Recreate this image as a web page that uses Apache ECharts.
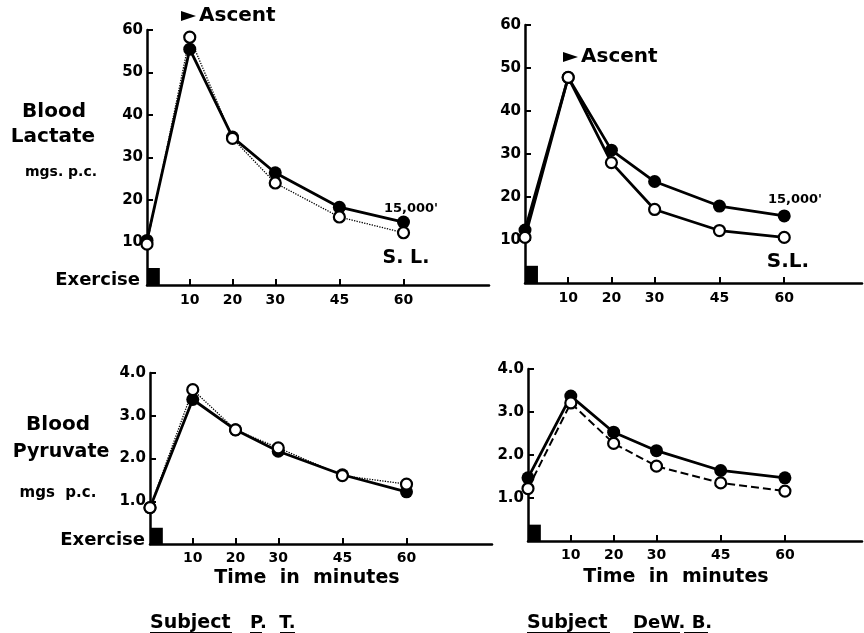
<!DOCTYPE html>
<html>
<head>
<meta charset="utf-8">
<script src="https://cdn.jsdelivr.net/npm/echarts@6/dist/echarts.min.js"></script>
<style>html,body{margin:0;padding:0;background:#fff}#c{width:864px;height:633px}</style>
</head>
<body>
<div id="c"></div>
<script>
// ---- data ----
var minutes = [0, 10, 20, 30, 45, 60];
var xTickValues = [10, 20, 30, 45, 60];
var lactateTicks = [10, 20, 30, 40, 50, 60];
var pyruvateTicks = [1, 2, 3, 4];

var lactatePT_15000 = [10.5, 55.5, 34.8, 26.4, 18.3, 14.8];
var lactatePT_SL = [9.6, 58.3, 34.5, 24.0, 16.0, 12.3];
var lactateDWB_15000 = [12.3, 47.8, 30.9, 23.6, 17.9, 15.6];
var lactateDWB_SL = [10.6, 47.8, 28.0, 17.1, 12.2, 10.6];

var pyruvatePT_15000 = [0.85, 3.38, 2.67, 2.17, 1.62, 1.22];
var pyruvatePT_SL = [0.85, 3.61, 2.67, 2.25, 1.60, 1.40];
var pyruvateDWB_15000 = [1.47, 3.37, 2.53, 2.10, 1.64, 1.47];
var pyruvateDWB_SL = [1.22, 3.21, 2.27, 1.74, 1.35, 1.16];

var exerciseMinutes = [0, 3];
var exerciseLactate = [0, 4];
var exercisePyruvate = [0, 0.38];

// ---- helpers ----
function pairs(xs, ys) { return xs.map(function (x, i) { return [x, ys[i]]; }); }
var FONT = '"DejaVu Sans", sans-serif';

function xAxis(grid, max, margin) {
  return {
    type: 'value', gridIndex: grid, min: 0, max: max,
    axisLine: { show: true, lineStyle: { color: '#000', width: 2.5 } },
    axisTick: { show: true, inside: true, length: 6, customValues: xTickValues, lineStyle: { color: '#000', width: 2 } },
    axisLabel: { customValues: xTickValues, margin: margin, color: '#000', fontFamily: FONT, fontWeight: 'bold', fontSize: 14 },
    splitLine: { show: false }
  };
}
function yAxis(grid, max, ticks, fmt) {
  return {
    type: 'value', gridIndex: grid, min: 0, max: max,
    axisLine: { show: true, lineStyle: { color: '#000', width: 2.5 } },
    axisTick: { show: true, inside: true, length: 6, customValues: ticks, lineStyle: { color: '#000', width: 2 } },
    axisLabel: { customValues: ticks, margin: 4, color: '#000', fontFamily: FONT, fontWeight: 'bold', fontSize: 15,
      formatter: fmt },
    splitLine: { show: false }
  };
}
function filledSeries(idx, ys, exY) {
  return {
    type: 'line', xAxisIndex: idx, yAxisIndex: idx, data: pairs(minutes, ys),
    symbol: 'circle', symbolSize: 13, z: 3,
    itemStyle: { color: '#000' },
    lineStyle: { color: '#000', width: 2.8 },
    markArea: { silent: true, itemStyle: { color: '#000', opacity: 1 },
      data: [[{ xAxis: exerciseMinutes[0], yAxis: exY[0] }, { xAxis: exerciseMinutes[1], yAxis: exY[1] }]] }
  };
}
function openSeries(idx, ys, w, type) {
  return {
    type: 'line', xAxisIndex: idx, yAxisIndex: idx, data: pairs(minutes, ys),
    symbol: 'circle', symbolSize: 11, z: 4,
    itemStyle: { color: '#fff', borderColor: '#000', borderWidth: 2.2 },
    lineStyle: { color: '#000', width: w, type: type }
  };
}
function txt(x, y, s, size, align) {
  return { type: 'text', x: x, y: y, z: 10,
    style: { text: s, fill: '#000', font: 'bold ' + size + 'px ' + FONT, textAlign: align || 'left', textVerticalAlign: 'middle' } };
}
function tri(x, y) {
  return { type: 'polygon', z: 10, shape: { points: [[x, y - 5], [x + 15, y], [x, y + 5]] }, style: { fill: '#000' } };
}
function uline(x1, x2, y) {
  return { type: 'line', z: 10, shape: { x1: x1, y1: y, x2: x2, y2: y }, style: { stroke: '#000', lineWidth: 2 } };
}
var f1 = function (v) { return v.toFixed(0); };
var f2 = function (v) { return v.toFixed(1); };

var chart = echarts.init(document.getElementById('c'), null, { renderer: 'canvas' });
chart.setOption({
  animation: false,
  backgroundColor: '#fff',
  grid: [
    { left: 147, top: 30, width: 342, height: 255 },
    { left: 525, top: 25, width: 337, height: 258 },
    { left: 150, top: 373, width: 342, height: 171 },
    { left: 528, top: 369, width: 334, height: 172 }
  ],
  xAxis: [xAxis(0, 80, 8), xAxis(1, 78, 8), xAxis(2, 80, 7), xAxis(3, 78, 7)],
  yAxis: [yAxis(0, 60, lactateTicks, f1), yAxis(1, 60, lactateTicks, f1),
          yAxis(2, 4, pyruvateTicks, f2), yAxis(3, 4, pyruvateTicks, f2)],
  series: [
    openSeries(0, lactatePT_SL, 1.3, 'dotted'),
    filledSeries(0, lactatePT_15000, exerciseLactate),
    openSeries(1, lactateDWB_SL, 2.8, 'solid'),
    filledSeries(1, lactateDWB_15000, exerciseLactate),
    openSeries(2, pyruvatePT_SL, 1.3, 'dotted'),
    filledSeries(2, pyruvatePT_15000, exercisePyruvate),
    openSeries(3, pyruvateDWB_SL, 2, 'dashed'),
    filledSeries(3, pyruvateDWB_15000, exercisePyruvate)
  ],
  graphic: [
    tri(181, 16), txt(199, 16, 'Ascent', 20),
    tri(563, 57), txt(581, 57, 'Ascent', 20),
    txt(54, 112, 'Blood', 20, 'center'),
    txt(53, 137, 'Lactate', 20, 'center'),
    txt(61, 172, 'mgs. p.c.', 14, 'center'),
    txt(140, 280, 'Exercise', 18, 'right'),
    txt(411, 209, "15,000'", 13, 'center'),
    txt(795, 200, "15,000'", 13, 'center'),
    txt(406, 258, 'S. L.', 19, 'center'),
    txt(788, 262, 'S.L.', 20, 'center'),
    txt(58, 425, 'Blood', 20, 'center'),
    txt(61, 452, 'Pyruvate', 19, 'center'),
    txt(58, 493, 'mgs  p.c.', 15, 'center'),
    txt(145, 540, 'Exercise', 18, 'right'),
    txt(307, 578, 'Time  in  minutes', 19, 'center'),
    txt(676, 577, 'Time  in  minutes', 19, 'center'),
    txt(150, 623, 'Subject', 19), txt(250, 623, 'P.  T.', 18),
    uline(150, 232, 633), uline(250, 262, 633), uline(280, 295, 633),
    txt(527, 623, 'Subject', 19), txt(633, 623, 'DeW. B.', 18),
    uline(527, 610, 633), uline(633, 680, 633), uline(684, 708, 633)
  ]
});
</script>
</body>
</html>
